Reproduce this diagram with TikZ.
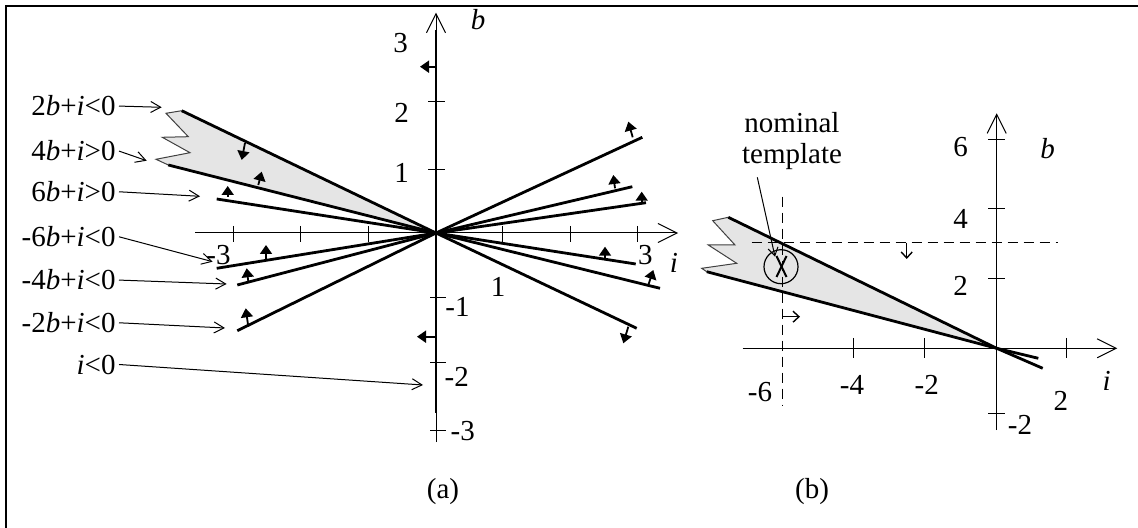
\documentclass[tikz,border=0pt]{standalone}
\usepackage{fontspec}
\setmainfont{Liberation Serif}
\usetikzlibrary{arrows.meta}
\begin{document}
\begin{tikzpicture}[x=0.5pt,y=-0.5pt,
  font=\fontsize{14.5}{17}\selectfont,
  axln/.style={line width=0.5pt},
  axarr/.style={line width=0.5pt,-{Straight Barb[length=9.5pt,width=9.5pt]}},
  cons/.style={line width=1.4pt},
  nrm/.style={line width=0.9pt,-{Triangle[length=4.5pt,width=6pt]}},
  lab/.style={line width=0.5pt,-{Straight Barb[length=5pt,width=5.5pt]}},
  opn/.style={line width=0.7pt,-{Straight Barb[length=3pt,width=5.5pt]}},
  txt/.style={inner sep=1.5pt},
  num/.style={inner sep=0pt},
  dsh/.style={line width=0.75pt,dash pattern=on 5pt off 3pt},
  zig/.style={line width=0.5pt,black!75}
]
\useasboundingbox (0,0) rectangle (1138,528);
% frame
\draw[line width=1.25pt] (6,528) -- (6,6) -- (1138,6);

% ================= (a) =================
\coordinate (O) at (436,233);
\fill[black!10] (O) -- (181.7,110.7) -- (166,113.3) -- (188.3,136.7) -- (162.3,137.3) -- (190,152.7) -- (156,159.3) -- (168.3,165) -- cycle;
\draw[zig] (181.7,110.7) -- (166,113.3) -- (188.3,136.7) -- (162.3,137.3) -- (190,152.7) -- (156,159.3) -- (168.3,165);

% axes
\draw[axarr] (195,233) -- (678,233);
\draw[axarr] (436,442) -- (436,12.7);
\draw[cons] (436,30) -- (436,413);
\foreach \x in {233.3,300.7,368.3,502.7,570,637} \draw[axln] (\x,226) -- (\x,242);
\foreach \y in {169.3,101.7} \draw[axln] (428,\y) -- (445,\y);
\foreach \y in {297.7,362.7,430.7} \draw[axln] (430,\y) -- (446,\y);

% constraint lines
\draw[cons] (181.7,110.7) -- (O) -- (636.7,328.3);
\draw[cons] (168.3,165) -- (O) -- (660,288.3);
\draw[cons] (216.7,199) -- (O) -- (635.7,264);
\draw[cons] (216.7,268.3) -- (O) -- (646,202.7);
\draw[cons] (237.3,285) -- (O) -- (632.3,186.7);
\draw[cons] (237.3,330.7) -- (O) -- (642.3,137.3);

% normal arrows
\draw[nrm] (245,143) -- (241.7,160);
\draw[nrm] (628.3,326.7) -- (623.3,343.3);
\draw[nrm] (258.3,185) -- (261.7,171.7);
\draw[nrm] (648.3,285) -- (653.3,270);
\draw[nrm] (227.7,196.7) -- (227.7,186);
\draw[nrm] (605,258) -- (605,246.7);
\draw[nrm] (266,259) -- (266,245);
\draw[nrm] (641.7,203) -- (641.7,191.7);
\draw[nrm] (248.3,281.7) -- (246.7,268.3);
\draw[nrm] (615,188.3) -- (613.3,175);
\draw[nrm] (248.3,326.7) -- (245.7,308.3);
\draw[nrm] (632.7,137.3) -- (628.3,121.7);
\draw[nrm] (436,66.7) -- (420,66.7);
\draw[nrm] (436,336.7) -- (417,336.7);

% axis numbers
\node[num] (ya3) at (400.7,43.3) {3};
\node[num] (ya2) at (401.7,113.3) {2};
\node[num] (ya1) at (401.7,173.3) {1};
\node[num] (yab) at (478,20) {\textit{b}};
\node[num] (yam1) at (457.5,306.7) {-1};
\node[num] (yam2) at (456.7,376.7) {-2};
\node[num] (yam3) at (462.8,430.8) {-3};
\node[num] (xam3) at (218.5,255) {-3};
\node[num] (xa3) at (645.3,255.3) {3};
\node[num] (xa1) at (498,286.7) {1};
\node[num] (xai) at (674,263) {\textit{i}};

% constraint labels
\node[txt,anchor=base east] (l1) at (119,116) {2\textit{b}+\textit{i}<0};
\node[txt,anchor=base east] (l2) at (119,161) {4\textit{b}+\textit{i}>0};
\node[txt,anchor=base east] (l3) at (119,201.7) {6\textit{b}+\textit{i}>0};
\node[txt,anchor=base east] (l4) at (119,246.7) {-6\textit{b}+\textit{i}<0};
\node[txt,anchor=base east] (l5) at (119,290) {-4\textit{b}+\textit{i}<0};
\node[txt,anchor=base east] (l6) at (119,332.7) {-2\textit{b}+\textit{i}<0};
\node[txt,anchor=base east] (l7) at (119,374) {\textit{i}<0};
\coordinate (t1) at (161.7,107.3);
\coordinate (t2) at (146.7,160.7);
\coordinate (t3) at (200,196.3);
\coordinate (t4) at (212.7,261.7);
\coordinate (t5) at (226.7,284);
\coordinate (t6) at (225,328);
\coordinate (t7) at (423,385);
\foreach \k in {1,...,7} \draw[lab] (l\k.east) -- (t\k);

\node[num] (capa) at (443,492) {(a)};

% ================= (b) =================
\coordinate (P) at (996.7,348.3);
\fill[black!10] (P) -- (728.3,217.3) -- (712.7,220.7) -- (735,245) -- (708.3,245) -- (736.7,263.3) -- (701.7,268.3) -- (706.7,271.7) -- cycle;
\draw[zig] (728.3,217.3) -- (712.7,220.7) -- (735,245) -- (708.3,245) -- (736.7,263.3) -- (701.7,268.3) -- (706.7,271.7);
\draw[cons] (728.3,217.3) -- (P) -- (1042.7,368.3);
\draw[cons] (706.7,271.7) -- (P) -- (1038.3,358.3);

\draw[axarr] (742.7,348.3) -- (1117.3,348.3);
\draw[axarr] (996.7,430) -- (996.7,113.3);
\foreach \x in {853,924.3,1066} \draw[axln] (\x,338) -- (\x,358);
\foreach \y in {139.3,208.3,278.7,413.3} \draw[axln] (988,\y) -- (1005,\y);

\draw[dsh] (751.7,242.7) -- (1058.3,242.7);
\draw[dsh] (782.7,196.7) -- (782.7,405);
\draw[opn] (906.7,242.7) -- (906.7,259);
\draw[opn] (782.7,316.7) -- (800,316.7);

\draw[line width=0.6pt] (781,266.7) circle[radius=17];
\draw[line width=1pt] (776.5,256) -- (786.5,277);
\draw[line width=1pt] (786.5,256) -- (776.5,277);

\node[num] (yb6) at (960.5,146.7) {6};
\node[num] (yb4) at (960.5,219) {4};
\node[num] (yb2) at (960.5,285.8) {2};
\node[num] (ybb) at (1047.5,148.3) {\textit{b}};
\node[num] (ybm2) at (1020,425) {-2};
\node[num] (xbi) at (1106.7,381) {\textit{i}};
\node[num] (xb2) at (1060.8,400.8) {2};
\node[num] (xbm2) at (926.7,385) {-2};
\node[num] (xbm4) at (852,385) {-4};
\node[num] (xbm6) at (760,391.7) {-6};

\node[num,anchor=base] (nom) at (792,133) {nominal};
\node[num,anchor=base] (tmpl) at (792,164) {template};
\coordinate (nt0) at (757.3,177.3);
\coordinate (nt1) at (775,256.7);
\draw[lab,-{Straight Barb[length=4pt,width=5pt]}] (nt0) -- (nt1);

\node[num] (capb) at (812,492) {(b)};
\end{tikzpicture}
\end{document}
